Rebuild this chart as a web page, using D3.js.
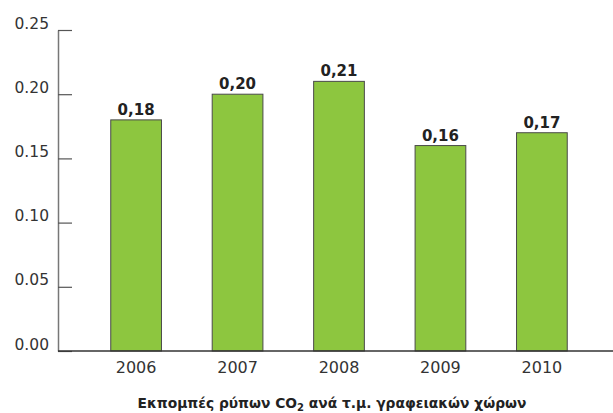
<!DOCTYPE html>
<html>
<head>
<meta charset="utf-8">
<script src="https://cdn.jsdelivr.net/npm/d3@7"></script>
<style>
  body { margin: 0; background: #fff; }
  svg { display: block; font-family: "DejaVu Sans", sans-serif; }
</style>
</head>
<body>
<div id="chart"></div>
<script>
const years = ["2006", "2007", "2008", "2009", "2010"];
const values = [0.18, 0.20, 0.21, 0.16, 0.17];
const yTicks = [0, 0.05, 0.10, 0.15, 0.20, 0.25];

const width = 613;
const height = 413;
const margin = { top: 30, bottom: 62, left: 58 };

const svg = d3
  .select("#chart")
  .append("svg")
  .attr("width", width)
  .attr("height", height);

const xScale = d3
  .scaleBand()
  .domain(years)
  .range([margin.left, 620])
  .paddingInner(0.5)
  .paddingOuter(0.52);

const yScale = d3
  .scaleLinear()
  .domain([0, 0.25])
  .range([height - margin.bottom, margin.top]);

// y axis: ticks point inward, labels sit just above each tick
const yAxisG = svg
  .append("g")
  .attr("transform", `translate(${margin.left}, 0)`)
  .call(
    d3.axisRight(yScale)
      .tickValues(yTicks)
      .tickSize(14)
      .tickSizeOuter(0)
      .tickFormat(d3.format(".2f"))
  );
yAxisG.select(".domain").attr("stroke", "#777").attr("stroke-width", 1.5);
yAxisG.selectAll(".tick line").attr("stroke", "#555").attr("stroke-width", 1.2);
yAxisG
  .selectAll(".tick text")
  .attr("x", -9)
  .attr("text-anchor", "end")
  .attr("dy", "-2px")
  .attr("fill", "#333")
  .style("font-size", "15.5px")
  .style("font-family", "DejaVu Sans, sans-serif");

// bars
svg
  .selectAll("rect.bar")
  .data(values)
  .enter()
  .append("rect")
  .attr("class", "bar")
  .attr("x", (d, i) => xScale(years[i]))
  .attr("y", d => yScale(d))
  .attr("width", xScale.bandwidth())
  .attr("height", d => yScale(0) - yScale(d))
  .attr("fill", "#8dc63f")
  .attr("stroke", "#4a4a4a")
  .attr("stroke-width", 1);

// value labels
svg
  .selectAll("text.val")
  .data(values)
  .enter()
  .append("text")
  .attr("class", "val")
  .attr("x", (d, i) => xScale(years[i]) + xScale.bandwidth() / 2)
  .attr("y", d => yScale(d) - 5)
  .attr("text-anchor", "middle")
  .attr("fill", "#222")
  .style("font-size", "15px")
  .style("font-weight", "bold")
  .text(d => d3.format(".2f")(d).replace(".", ","));

// x axis line + labels
const xAxisG = svg
  .append("g")
  .attr("transform", `translate(0, ${yScale(0)})`)
  .call(d3.axisBottom(xScale).tickSize(0).tickSizeOuter(0));
xAxisG
  .select(".domain")
  .attr("d", `M${margin.left},0H${width}`)
  .attr("stroke", "#333")
  .attr("stroke-width", 1.3);
xAxisG
  .selectAll(".tick text")
  .attr("y", 22)
  .attr("dy", 0)
  .attr("fill", "#333")
  .style("font-size", "16px")
  .style("font-family", "DejaVu Sans, sans-serif");

// title below the axis
const title = svg
  .append("text")
  .attr("x", 332)
  .attr("y", 408)
  .attr("text-anchor", "middle")
  .attr("fill", "#222")
  .style("font-size", "13.8px")
  .style("font-weight", "bold");
title.append("tspan").text("Εκπομπές ρύπων CO");
title.append("tspan").attr("dy", 3).style("font-size", "10px").text("2");
title.append("tspan").attr("dy", -3).text(" ανά τ.μ. γραφειακών χώρων");
</script>
</body>
</html>
